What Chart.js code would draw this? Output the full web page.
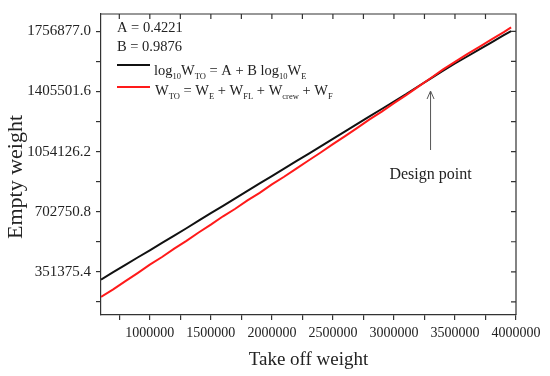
<!DOCTYPE html>
<html>
<head>
<meta charset="utf-8">
<script src="https://cdn.jsdelivr.net/npm/chart.js@4.4.0/dist/chart.umd.min.js"></script>
<style>
  html, body { margin: 0; padding: 0; background: #fff; }
  #chart { display: block; }
</style>
</head>
<body>
<canvas id="chart" width="550" height="376"></canvas>
<script>
// Take off weight (x) and empty weight (y)
const takeoffWeight = [600000, 700000, 800000, 900000, 1000000, 1100000, 1200000, 1300000, 1400000,
    1500000, 1600000, 1700000, 1800000, 1900000, 2000000, 2100000, 2200000, 2300000, 2400000,
    2500000, 2600000, 2700000, 2800000, 2900000, 3000000, 3100000, 3200000, 3300000, 3400000,
    3500000, 3600000, 3700000, 3800000, 3900000, 3960000];

// log10 WTO = A + B log10 WE
const emptyLogFit = [306000, 349000, 392000, 435000, 477000, 520000, 563000, 606000, 650000,
    694000, 737000, 781000, 824000, 868000, 911000, 954000, 998000, 1041000, 1085000,
    1129000, 1172000, 1216000, 1260000, 1303000, 1347000, 1390000, 1436000, 1481000, 1526000,
    1569000, 1610000, 1652000, 1693000, 1735000, 1759000];

// WTO = WE + WFL + Wcrew + WF
const emptyBuildUp = [205000, 249000, 297000, 344000, 393000, 438000, 487000, 532000, 581000,
    627000, 676000, 720000, 769000, 813000, 862000, 907000, 955000, 1002000, 1049000,
    1098000, 1145000, 1193000, 1242000, 1288000, 1337000, 1384000, 1434000, 1483000, 1533000,
    1579000, 1624000, 1666000, 1710000, 1752000, 1780000];

const xMajorTicks = [1000000, 1500000, 2000000, 2500000, 3000000, 3500000, 4000000];
const xMinorTicks = [750000, 1250000, 1750000, 2250000, 2750000, 3250000, 3750000];
const yMajorTicks = [351375.4, 702750.8, 1054126.2, 1405501.6, 1756877.0];
const yMinorTicks = [175687.7, 527063.1, 878438.5, 1229813.9, 1581189.3];

const designPointX = 3300000;

const SERIF = "'Liberation Serif', 'Times New Roman', serif";
const TEXT = '#222';
const AXIS = '#333';

function allTicks(major, minor) {
    return major.concat(minor).sort((a, b) => a - b).map(v => ({ value: v }));
}

// draws a formula made of [text, isSubscript] pieces
function drawRuns(ctx, runs, x, y) {
    runs.forEach(([txt, sub]) => {
        ctx.font = (sub ? '8.5px ' : '14.5px ') + SERIF;
        ctx.fillText(txt, x, sub ? y + 4 : y);
        x += ctx.measureText(txt).width;
    });
}

const framePlugin = {
    id: 'frame',
    afterDraw(chart) {
        const { ctx, chartArea: a, scales: { x, y } } = chart;
        ctx.save();

        // top and right frame with inward ticks
        ctx.strokeStyle = AXIS;
        ctx.lineWidth = 1.2;
        ctx.beginPath();
        ctx.moveTo(a.left, a.top);
        ctx.lineTo(a.right, a.top);
        ctx.lineTo(a.right, a.bottom);
        x.ticks.forEach(t => {
            const px = x.getPixelForValue(t.value);
            ctx.moveTo(px, a.top);
            ctx.lineTo(px, a.top + 5);
        });
        y.ticks.forEach(t => {
            const py = y.getPixelForValue(t.value);
            ctx.moveTo(a.right, py);
            ctx.lineTo(a.right - 5, py);
        });
        ctx.stroke();

        // axis titles
        ctx.fillStyle = TEXT;
        ctx.textAlign = 'center';
        ctx.textBaseline = 'middle';
        ctx.font = '19px ' + SERIF;
        ctx.fillText('Take off weight', (a.left + a.right) / 2, 360);
        ctx.save();
        ctx.translate(16, 177);
        ctx.rotate(-Math.PI / 2);
        ctx.font = '22px ' + SERIF;
        ctx.fillText('Empty weight', 0, 0);
        ctx.restore();

        // fit coefficients and legend
        ctx.textAlign = 'left';
        ctx.textBaseline = 'alphabetic';
        ctx.font = '14.5px ' + SERIF;
        ctx.fillText('A = 0.4221', 117, 32);
        ctx.fillText('B = 0.9876', 117, 51);

        ctx.lineWidth = 2;
        ctx.strokeStyle = '#111';
        ctx.beginPath();
        ctx.moveTo(117, 65);
        ctx.lineTo(150, 65);
        ctx.stroke();
        ctx.strokeStyle = '#ff1a1a';
        ctx.beginPath();
        ctx.moveTo(117, 87);
        ctx.lineTo(150, 87);
        ctx.stroke();

        drawRuns(ctx, [['log', 0], ['10', 1], ['W', 0], ['TO', 1], [' = A + B log', 0], ['10', 1], ['W', 0], ['E', 1]], 154, 75);
        drawRuns(ctx, [['W', 0], ['TO', 1], [' = W', 0], ['E', 1], [' + W', 0], ['FL', 1], [' + W', 0], ['crew', 1], [' + W', 0], ['F', 1]], 155, 95);

        // design point arrow
        const ax = x.getPixelForValue(designPointX);
        ctx.strokeStyle = '#555';
        ctx.fillStyle = '#555';
        ctx.lineWidth = 1;
        ctx.beginPath();
        ctx.moveTo(ax, 150);
        ctx.lineTo(ax, 92);
        ctx.moveTo(ax - 3.5, 99);
        ctx.lineTo(ax, 91);
        ctx.lineTo(ax + 3.5, 99);
        ctx.stroke();

        ctx.fillStyle = TEXT;
        ctx.textAlign = 'center';
        ctx.font = '16px ' + SERIF;
        ctx.fillText('Design point', ax, 179);

        ctx.restore();
    }
};

const ctx = document.getElementById('chart');

new Chart(ctx, {
    type: 'line',
    data: {
        datasets: [
            {
                label: 'WTO = WE + WFL + Wcrew + WF',
                data: takeoffWeight.map((v, i) => ({ x: v, y: emptyBuildUp[i] })),
                borderColor: '#ff1a1a',
                borderWidth: 2,
                pointRadius: 0,
                tension: 0
            },
            {
                label: 'log10 WTO = A + B log10 WE',
                data: takeoffWeight.map((v, i) => ({ x: v, y: emptyLogFit[i] })),
                borderColor: '#111',
                borderWidth: 2,
                pointRadius: 0,
                tension: 0
            }
        ]
    },
    options: {
        responsive: false,
        animation: false,
        layout: { padding: { left: 0, right: 34, top: 8, bottom: 0 } },
        plugins: {
            legend: { display: false },
            tooltip: { enabled: false }
        },
        scales: {
            x: {
                type: 'linear',
                min: 600000,
                max: 4000000,
                afterBuildTicks: s => { s.ticks = allTicks(xMajorTicks, xMinorTicks); },
                afterFit: s => { s.height = 61; },
                ticks: {
                    autoSkip: false,
                    maxRotation: 0,
                    padding: 5,
                    color: TEXT,
                    font: { family: SERIF, size: 14 },
                    callback: v => xMajorTicks.includes(v) ? String(v) : ''
                },
                grid: { drawOnChartArea: false, tickLength: 5, color: AXIS, lineWidth: 1.2 },
                border: { color: AXIS, width: 1.2 }
            },
            y: {
                type: 'linear',
                min: 98900,
                max: 1858400,
                afterBuildTicks: s => { s.ticks = allTicks(yMajorTicks, yMinorTicks); },
                afterFit: s => { s.width = 101; },
                ticks: {
                    autoSkip: false,
                    padding: 5,
                    color: TEXT,
                    font: { family: SERIF, size: 15 },
                    callback: v => yMajorTicks.includes(v) ? v.toFixed(1) : ''
                },
                grid: { drawOnChartArea: false, tickLength: 5, color: AXIS, lineWidth: 1.2 },
                border: { color: AXIS, width: 1.2 }
            }
        }
    },
    plugins: [framePlugin]
});
</script>
</body>
</html>
